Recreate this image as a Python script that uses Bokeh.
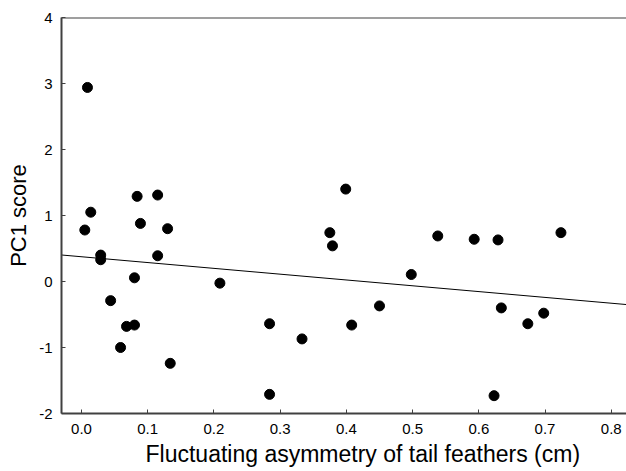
from bokeh.plotting import figure
from bokeh.models import Range1d, Title, FixedTicker, Span
from bokeh.embed import file_html
from bokeh.resources import INLINE

# Fluctuating asymmetry of tail feathers (cm)
fa_cm = [0.009, 0.014, 0.005, 0.084, 0.115, 0.089, 0.130, 0.399, 0.375, 0.538,
         0.593, 0.629, 0.724, 0.029, 0.029, 0.115, 0.080, 0.044, 0.068, 0.080,
         0.059, 0.134, 0.209, 0.379, 0.498, 0.450, 0.284, 0.408, 0.333, 0.284,
         0.634, 0.698, 0.674, 0.623]
# PC1 score
pc1 = [2.94, 1.05, 0.78, 1.29, 1.31, 0.88, 0.80, 1.40, 0.74, 0.69,
       0.64, 0.63, 0.74, 0.40, 0.33, 0.39, 0.056, -0.29, -0.68, -0.66,
       -1.00, -1.24, -0.025, 0.54, 0.106, -0.37, -0.64, -0.66, -0.87, -1.71,
       -0.40, -0.48, -0.64, -1.73]

fit_intercept = 0.375
fit_slope = -0.88

x_ticks = [0.0, 0.1, 0.2, 0.3, 0.4, 0.5, 0.6, 0.7, 0.8]
x_tick_labels = ["0.0", "0.1", "0.2", "0.3", "0.4", "0.5", "0.6", "0.7", "0.8"]
y_ticks = [-2, -1, 0, 1, 2, 3, 4]
y_tick_labels = ["-2", "-1", "0", "1", "2", "3", "4"]
x_start, x_end = -0.0302, 0.823
y_start, y_end = -2, 4

FONT = "Liberation Sans"
AX = "#404040"

p = figure(width=626, height=471, output_backend="svg", toolbar_location=None,
           x_range=Range1d(x_start, x_end), y_range=Range1d(y_start, y_end),
           min_border_left=61, min_border_right=0, min_border_top=17,
           min_border_bottom=58)
p.grid.visible = False
p.outline_line_color = None
p.background_fill_color = "white"
p.border_fill_color = "white"

for ax in (p.xaxis[0], p.yaxis[0]):
    ax.axis_line_color = AX
    ax.axis_line_width = 2
    ax.major_tick_line_color = AX
    ax.major_tick_line_width = 1
    ax.major_tick_in = 4
    ax.major_tick_out = 0
    ax.minor_tick_line_color = None
    ax.major_label_text_font = FONT
    ax.major_label_text_font_size = "15px"
    ax.major_label_text_color = "black"

p.xaxis[0].ticker = FixedTicker(ticks=x_ticks)
p.xaxis[0].major_label_overrides = dict(zip(x_ticks, x_tick_labels))
p.xaxis[0].major_label_standoff = 10
p.yaxis[0].ticker = FixedTicker(ticks=y_ticks)
p.yaxis[0].major_label_overrides = dict(zip(y_ticks, y_tick_labels))
p.yaxis[0].major_label_standoff = 9
p.yaxis[0].axis_label = "PC1 score"
p.yaxis[0].axis_label_text_font = FONT
p.yaxis[0].axis_label_text_font_size = "22px"
p.yaxis[0].axis_label_text_font_style = "normal"
p.yaxis[0].axis_label_text_color = "black"
p.yaxis[0].axis_label_standoff = 5

p.add_layout(Span(location=y_end, dimension="width", line_color=AX, line_width=2))

xt = Title(text="Fluctuating asymmetry of tail feathers (cm)", align="left",
           offset=84, text_font=FONT, text_font_size="23px",
           text_font_style="normal", text_color="black", standoff=4)
p.add_layout(xt, "below")

fx = [x_start, x_end]
fy = [fit_intercept + fit_slope * v for v in fx]
p.line(fx, fy, line_color="black", line_width=1)

p.scatter(fa_cm, pc1, size=10, fill_color="black", line_color="black")

open("out.html", "w").write(file_html(p, INLINE))
